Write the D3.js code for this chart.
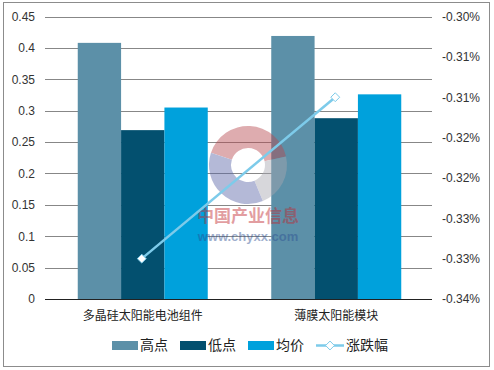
<!DOCTYPE html>
<html><head><meta charset="utf-8">
<script src="https://cdn.jsdelivr.net/npm/d3@7"></script>
<style>
body{margin:0;background:#fff;}
svg{display:block;font-family:"Liberation Sans",Arial,"Noto Sans CJK SC",sans-serif;}
</style></head>
<body>
<script>
const categories = ["多晶硅太阳能电池组件", "薄膜太阳能模块"];
const seriesNames = ["高点", "低点", "均价"];
const high = [0.408, 0.419];
const low = [0.269, 0.288];
const avg = [0.305, 0.326];
const change = [-0.330, -0.310];
const lineName = "涨跌幅";
const leftTicks = [0, 0.05, 0.1, 0.15, 0.2, 0.25, 0.3, 0.35, 0.4, 0.45];
const rightTicks = [-0.335, -0.33, -0.325, -0.32, -0.315, -0.31, -0.305, -0.30];
const colors = ["#5C90A8", "#03506F", "#00A1DC"];
const lineColor = "#7DCBEA";

const W = 494, H = 370;
const svg = d3.select("body").append("svg").attr("width", W).attr("height", H);
svg.append("rect").attr("x", 3.5).attr("y", 2.5).attr("width", 486).attr("height", 364)
  .attr("fill", "#fff").attr("stroke", "#8c8c8c").attr("stroke-width", 1);

const x0 = 45, x1 = 432, yTop = 16.5, yBot = 299;
const x = d3.scaleBand().domain(categories).range([x0, x1]).paddingInner(0).paddingOuter(0);
const xs = d3.scaleBand().domain(seriesNames).range([0, 130]).padding(0);
const yL = d3.scaleLinear().domain([0, 0.45]).range([yBot, yTop]);
const yR = d3.scaleLinear().domain([-0.335, -0.30]).range([yBot, yTop]);

// gridlines
svg.append("g").selectAll("line").data(leftTicks.filter(d => d > 0)).join("line")
  .attr("x1", x0).attr("x2", x1).attr("y1", d => Math.round(yL(d)) + 0.5).attr("y2", d => Math.round(yL(d)) + 0.5)
  .attr("stroke", "#878787").attr("stroke-width", 1);

// left axis
const gl = svg.append("g").attr("transform", `translate(${x0},0)`)
  .call(d3.axisLeft(yL).tickValues(leftTicks).tickSize(0).tickPadding(10).tickFormat(d => String(+d.toFixed(2))));
gl.select(".domain").remove();
gl.selectAll("text").attr("font-size", 12).attr("fill", "#333").attr("font-family", "'Liberation Sans',Arial,sans-serif");

// right axis
const fmtR = d => {
  const v = Math.sign(d) * Math.round(Math.abs(d) * 100 + 1e-9) / 100;
  return v.toFixed(2) + "%";
};
const gr = svg.append("g").attr("transform", `translate(${x1},0)`)
  .call(d3.axisRight(yR).tickValues(rightTicks).tickSize(0).tickPadding(10).tickFormat(fmtR));
gr.select(".domain").remove();
gr.selectAll("text").attr("font-size", 12).attr("fill", "#333").attr("font-family", "'Liberation Sans',Arial,sans-serif");

// bars
const series = [high, low, avg];
categories.forEach((c, i) => {
  const gx = x(c) + (x.bandwidth() - 130) / 2 + 1;
  series.forEach((s, j) => {
    svg.append("rect").attr("x", gx + xs(seriesNames[j])).attr("width", xs.bandwidth())
      .attr("y", yL(s[i])).attr("height", yL(0) - yL(s[i])).attr("fill", colors[j]);
  });
});

// baseline
svg.append("line").attr("x1", x0).attr("x2", x1).attr("y1", yBot + 0.5).attr("y2", yBot + 0.5)
  .attr("stroke", "#222").attr("stroke-width", 1);

// watermark (overlay)
const wm = svg.append("g").attr("opacity", 0.45);
const cx = 248, cy = 165;
const arc = d3.arc();
wm.append("path").attr("d", arc({innerRadius: 17, outerRadius: 39, startAngle: -1.25, endAngle: 1.35}))
  .attr("transform", `translate(${cx},${cy})`).attr("fill", "#b8484f");
wm.append("path").attr("d", arc({innerRadius: 17, outerRadius: 39, startAngle: 1.35, endAngle: 2.75}))
  .attr("transform", `translate(${cx},${cy})`).attr("fill", "#a8a8b0");
wm.append("path").attr("d", arc({innerRadius: 17, outerRadius: 39, startAngle: 2.75, endAngle: 5.03}))
  .attr("transform", `translate(${cx},${cy})`).attr("fill", "#5a66a8");
wm.append("text").attr("x", 248).attr("y", 222).attr("text-anchor", "middle")
  .attr("font-size", 17).attr("font-weight", "bold").attr("fill", "#c0282f")
  .attr("font-family", "'Noto Sans CJK SC',sans-serif").text("中国产业信息");
wm.append("text").attr("x", 248).attr("y", 241).attr("text-anchor", "middle")
  .attr("font-size", 13).attr("font-weight", "bold").attr("fill", "#2c4f92").text("www.chyxx.com");

// line series
const lineGen = d3.line().x((d, i) => x(categories[i]) + x.bandwidth() / 2).y(d => yR(d));
svg.append("path").datum(change).attr("d", lineGen).attr("fill", "none")
  .attr("stroke", lineColor).attr("stroke-width", 2.5);
const diamond = d3.symbol().type(d3.symbolDiamond2).size(50);
svg.selectAll(".mk").data(change).join("path").attr("class", "mk")
  .attr("d", diamond)
  .attr("transform", (d, i) => `translate(${x(categories[i]) + x.bandwidth() / 2},${yR(d)})`)
  .attr("fill", "#fff").attr("stroke", lineColor).attr("stroke-width", 1);

// category labels
svg.selectAll(".cat").data(categories).join("text").attr("class", "cat")
  .attr("x", d => x(d) + x.bandwidth() / 2 + 1).attr("y", 320).attr("text-anchor", "middle")
  .attr("font-size", 12).attr("fill", "#222").attr("font-family", "'Noto Sans CJK SC',sans-serif").text(d => d);

// legend
const lg = svg.append("g").attr("font-family", "'Noto Sans CJK SC',sans-serif");
const legX = [112, 180, 248];
seriesNames.forEach((n, j) => {
  lg.append("rect").attr("x", legX[j]).attr("y", 341).attr("width", 26).attr("height", 9).attr("fill", colors[j]);
  lg.append("text").attr("x", legX[j] + 28).attr("y", 350).attr("font-size", 14).attr("fill", "#222").text(n);
});
lg.append("line").attr("x1", 316).attr("x2", 344).attr("y1", 345.5).attr("y2", 345.5).attr("stroke", lineColor).attr("stroke-width", 2.5);
lg.append("path").attr("d", diamond).attr("transform", "translate(330,345.5)").attr("fill", "#fff").attr("stroke", lineColor);
lg.append("text").attr("x", 346).attr("y", 350).attr("font-size", 14).attr("fill", "#222").text(lineName);
</script>
</body></html>
